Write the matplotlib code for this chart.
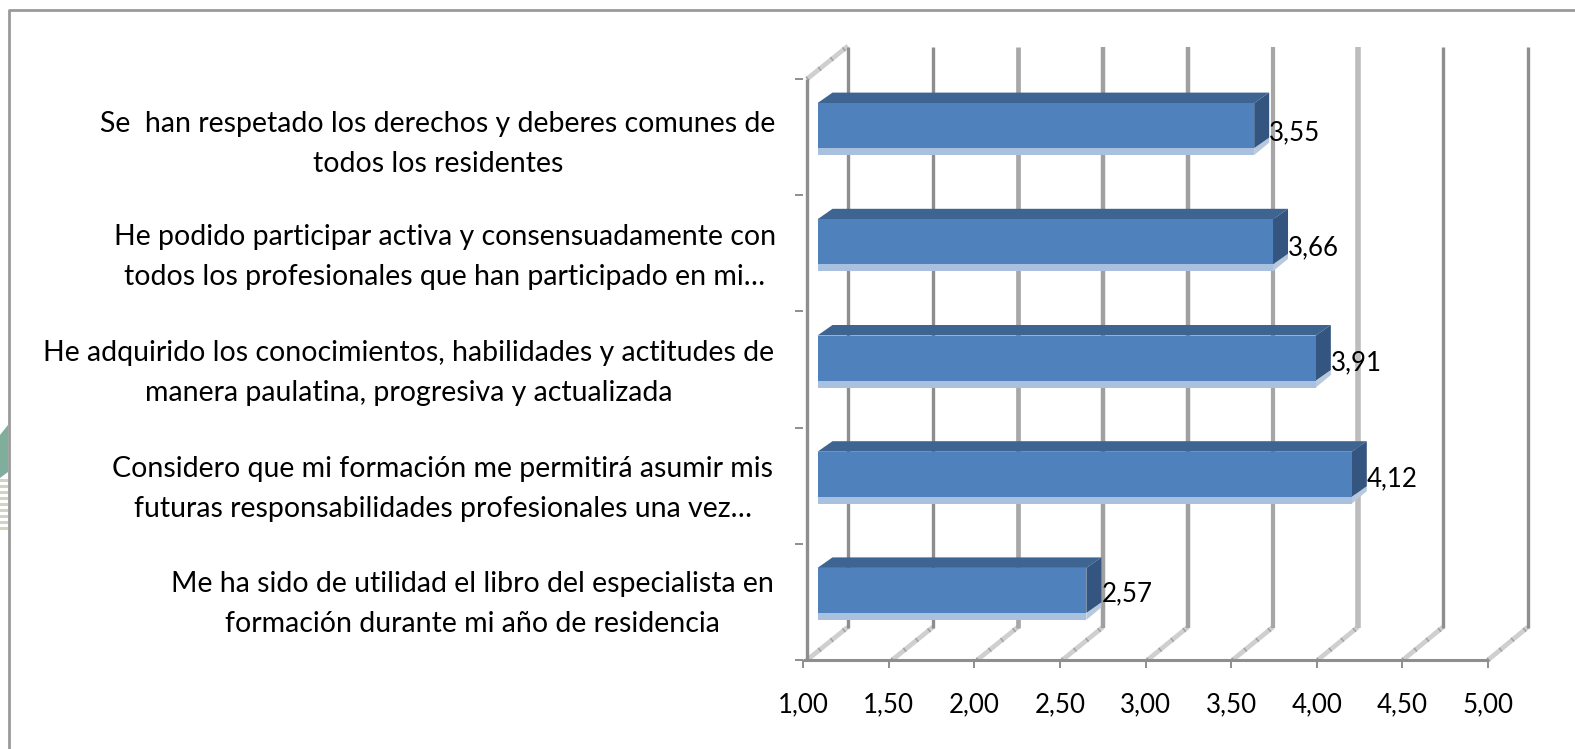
import matplotlib
matplotlib.use("Agg")
import matplotlib.pyplot as plt
from matplotlib.patches import Polygon, Rectangle
from matplotlib.lines import Line2D
from matplotlib.transforms import ScaledTranslation

W, H = 1575, 749
categories = [
    "Me ha sido de utilidad el libro del especialista en\nformación durante mi año de residencia",
    "Considero que mi formación me permitirá asumir mis\nfuturas responsabilidades profesionales una vez…",
    "He adquirido los conocimientos, habilidades y actitudes de\nmanera paulatina, progresiva y actualizada",
    "He podido participar activa y consensuadamente con\ntodos los profesionales que han participado en mi…",
    "Se  han respetado los derechos y deberes comunes de\ntodos los residentes",
]
values = [2.57, 4.12, 3.91, 3.66, 3.55]
value_labels = ["2,57", "4,12", "3,91", "3,66", "3,55"]
x_ticks = [1.0, 1.5, 2.0, 2.5, 3.0, 3.5, 4.0, 4.5, 5.0]
x_tick_labels = ["1,00", "1,50", "2,00", "2,50", "3,00", "3,50", "4,00", "4,50", "5,00"]

plt.rcParams["font.family"] = ["Lato", "DejaVu Sans"]
fig = plt.figure(figsize=(W / 100, H / 100), dpi=100)


def fx(x):
    return x / W


def fy(y):
    return 1 - y / H


# logo sliver behind the chart frame, at the left edge
fig.add_artist(Polygon([[0, fy(435)], [fx(8), fy(425)], [fx(8), fy(472)], [0, fy(478)]],
                       closed=True, transform=fig.transFigure, fc="#7fae9c", ec="none", zorder=-3))
for yy in range(482, 532, 6):
    fig.add_artist(Rectangle((0, fy(yy)), fx(8), 3 / H, transform=fig.transFigure, fc="#cfd4c4", ec="none",
                             zorder=-3))
# chart frame: only its left and top edges fall inside the picture
fig.add_artist(Line2D([fx(9), fx(9), 1], [0, fy(10), fy(10)], transform=fig.transFigure, color="#9a9a9a",
                      lw=2.0, zorder=-2))

L, R, T, B = 803, 1488, 79, 660
ax = fig.add_axes([fx(L), fy(B), (R - L) / W, (B - T) / H])
ax.set_xlim(1, 5)
ax.set_ylim(0, 5)
ax.patch.set_alpha(0)
for s in ax.spines.values():
    s.set_visible(False)


def px(dx, dy):
    return ax.transData + ScaledTranslation(dx / 100, dy / 100, fig.dpi_scale_trans)


DY = 33
UX, UY = 171.25, 116.2
grid_c = ["#8e8e8e", "#8e8e8e", "#a8a8a8", "#a0a0a0", "#a0a0a0", "#a6a6a6", "#bdbdbd", "#8e8e8e", "#8e8e8e"]
grid_w = [2.4, 2.4, 3.4, 3.2, 3.2, 3.0, 4.0, 2.4, 2.4]


def back_offset(tick):
    # the back wall is a little narrower than the front edge
    return 45 - 5 * (tick - 1) / 4


def floor_line(tick, level):
    start = 4 - (tick - 1)
    xs, ys = [tick, tick + (back_offset(tick) - start) / UX], [level, level + DY / UY]
    ax.plot(xs, ys, color="#cfcfcf", lw=3.4, clip_on=False, solid_capstyle="butt", zorder=1, transform=px(start, 0))
    ax.plot(xs, ys, color="#9f9f9f", lw=3.4, clip_on=False, linestyle=(0, (0.3, 3.0)), zorder=1.1,
            transform=px(start, 0))


for tick, c, w in zip(x_ticks, grid_c, grid_w):
    floor_line(tick, 0)
    ax.plot([tick, tick], [0, 5], color=c, lw=w, clip_on=False, solid_capstyle="butt", zorder=1.2,
            transform=px(back_offset(tick), DY - 1))
floor_line(1, 5)

# axis lines and ticks
ax.plot([1, 5], [0, 0], color="#8e8e8e", lw=2.2, clip_on=False, zorder=2, solid_capstyle="butt")
ax.plot([1, 1], [0, 5], color="#8e8e8e", lw=2.4, clip_on=False, zorder=2, solid_capstyle="butt",
        transform=px(4, 0))
ax.set_xticks(x_ticks)
ax.set_xticklabels(x_tick_labels, fontsize=18.6, color="black")
ax.set_yticks(range(6))
ax.set_yticklabels([])
ax.tick_params(axis="both", color="#8e8e8e", width=1.4, length=5.5)
ax.tick_params(axis="x", pad=18)

# bars
FX, FY, TX, TY = 14.5, 11.5, 15, 10.5
bar_h = 45 / UY
value_dy = [8, 7, 7, 5, 4]
for i, v in enumerate(values):
    yc = i + 0.5
    y0, y1 = yc - bar_h / 2, yc + bar_h / 2
    shift = px(FX, FY)
    # pale reflection under the bar and its end
    ax.barh(y0 - 3.5 / UY, v - 1, left=1, height=7 / UY, color="#a9c0de", clip_on=False, zorder=4, transform=shift)
    ax.add_patch(Polygon([[v, y0 - 7 / UY], [v, y0], [v + TX / UX, y0 + TY / UY], [v + TX / UX, y0 + (TY - 5) / UY]],
                         closed=True, fc="#b9c9dd", ec="none", zorder=4, clip_on=False, transform=shift))
    # top face
    ax.add_patch(Polygon([[1, y1], [v, y1], [v + TX / UX, y1 + TY / UY], [1 + TX / UX, y1 + TY / UY]],
                         closed=True, fc="#3e6491", ec="none", zorder=5, clip_on=False, transform=shift))
    # side face
    ax.add_patch(Polygon([[v, y0], [v, y1], [v + TX / UX, y1 + TY / UY], [v + TX / UX, y0 + TY / UY]],
                         closed=True, fc="#33557f", ec="none", zorder=5, clip_on=False, transform=shift))
    # front face
    ax.barh(yc, v - 1, left=1, height=bar_h, color="#4f81bd", clip_on=False, zorder=6, transform=shift)
    # value label
    ax.text(v, yc, value_labels[i], fontsize=18.6, ha="left", va="center", color="black", zorder=7,
            clip_on=False, transform=px(FX + TX, value_dy[i]))

# category labels
label_x = [472, 443, 409, 445, 438]
label_y = [604, 489, 373, 257, 144]
for name, lx, ly in zip(categories, label_x, label_y):
    fig.text(fx(lx), fy(ly), name, ha="center", va="center", multialignment="center",
             fontsize=20.5, color="black", linespacing=1.62)

fig.savefig("out.png", dpi=100)
